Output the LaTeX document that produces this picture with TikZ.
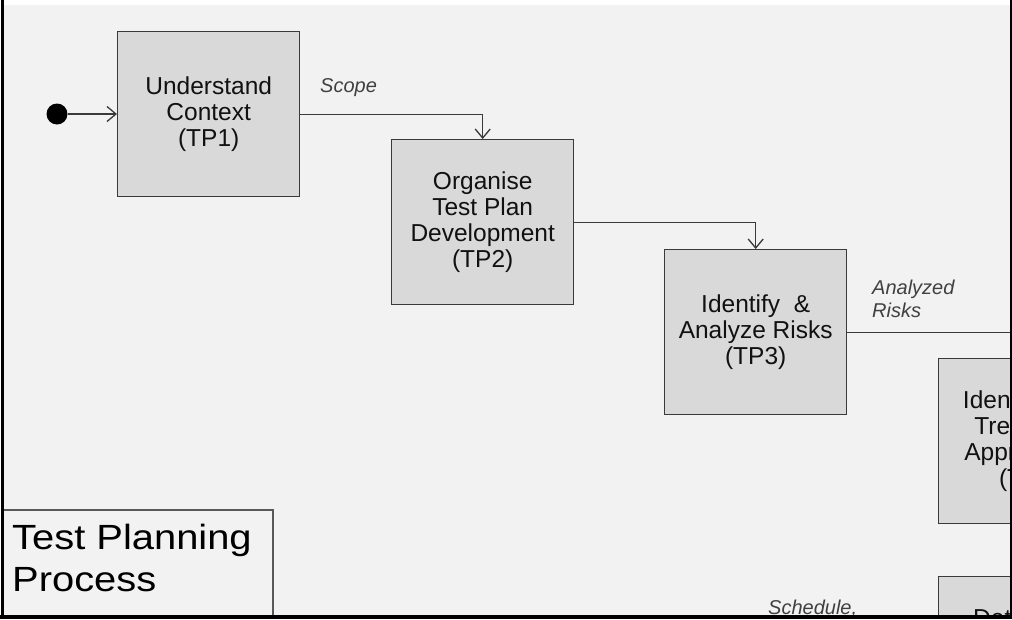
\documentclass[tikz,border=0pt]{standalone}
\usepackage{fontspec}
\setmainfont{Liberation Sans}
\newfontfamily\titlefont[FakeStretch=1.14]{Liberation Sans}
\usetikzlibrary{arrows.meta}
\definecolor{pagebg}{HTML}{F2F2F2}
\definecolor{boxfill}{HTML}{D9D9D9}
\definecolor{edge}{HTML}{3A3A3A}
\definecolor{ink}{HTML}{111111}
\definecolor{labelink}{HTML}{404040}
\definecolor{titleedge}{HTML}{595959}

\begin{document}
\begin{tikzpicture}[x=1pt,y=-1pt,
  proc/.style={draw=edge, line width=1.4pt, fill=boxfill, anchor=north west,
    minimum width=182pt, minimum height=165pt, inner sep=0pt, align=center,
    text=ink, font=\fontsize{24.5}{26}\selectfont},
  flow/.style={draw=edge, line width=1.3pt,
    -{Straight Barb[length=9pt,width=15pt,line width=1.3pt]}},
  flowlabel/.style={anchor=north west, inner sep=0pt, align=left,
    text=labelink, font=\itshape\fontsize{20}{23}\selectfont},
  titletext/.style={anchor=north west, inner sep=0pt, align=left,
    text=black, font=\titlefont\fontsize{35}{42}\selectfont},
]
\useasboundingbox (0,0) rectangle (1012,619);
\fill[white] (0,0) rectangle (1012,619);
\fill[pagebg] (4,5) rectangle (1010,615);

\begin{scope}
  \clip (4,5) rectangle (1010,615);

  % process steps (staircase)
  \node[proc] (tp1) at (117,31)  {Understand\\Context\\(TP1)};
  \node[proc] (tp2) at (391,139) {Organise\\Test Plan\\Development\\(TP2)};
  \node[proc] (tp3) at (664,249) {Identify\ \ \&\\Analyze Risks\\(TP3)};
  \node[proc] (tp4) at (938,358) {Identify Risk\\Treatment\\Approaches\\(TP4)};
  \node[proc] (tp6) at (938,576) {Determine\\Staffing \&\\Scheduling\\(TP6)};

  % start marker
  \node[circle, fill=black, minimum size=21pt, inner sep=0pt] (start) at (57,114) {};

  % connectors
  \draw[flow] (start.east) -- (tp1.west |- start);
  \draw[flow] (tp1.east) -| (tp2.north);
  \draw[flow] (tp2.east) -| (tp3.north);
  \draw[flow] (tp3.east) -| (tp4.north);

  % connector labels
  \node[flowlabel] (scope) at (320,78) {Scope};
  \node[flowlabel] (risks) at (872,280) {Analyzed\\Risks};
  \node[flowlabel] (sched) at (768,600) {Schedule,};

  % title panel
  \draw[titleedge, line width=1.4pt, fill=pagebg] (3,510) rectangle (273,640);
  \node[titletext] (title) at (12,524) {Test Planning\\Process};
\end{scope}

% outer frame
\fill[black] (1,0) rectangle (4,619);
\fill[black] (1010,0) rectangle (1012,619);
\fill[black] (0,615) rectangle (1012,619);
\end{tikzpicture}
\end{document}
